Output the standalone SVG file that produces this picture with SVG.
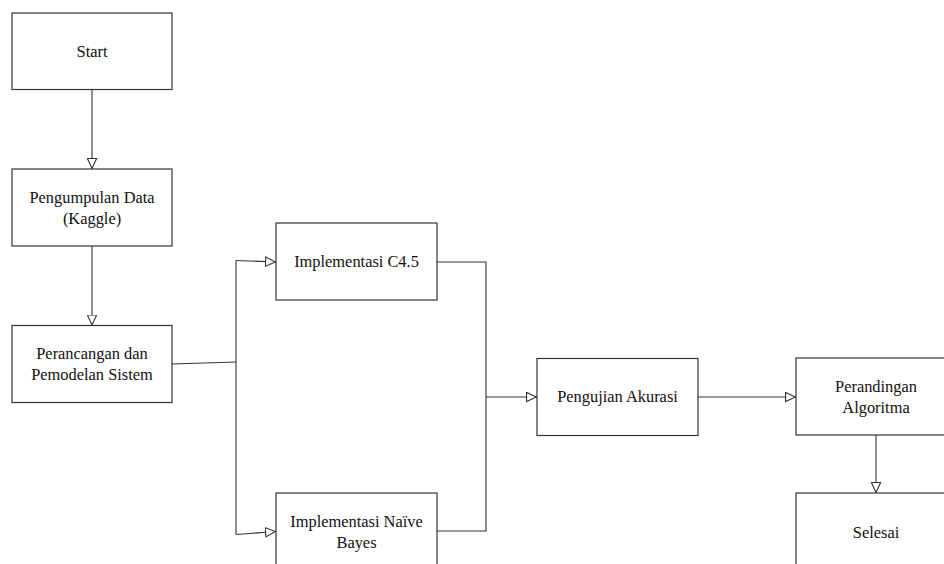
<svg xmlns="http://www.w3.org/2000/svg" width="944" height="564" viewBox="0 0 944 564">
<style>
.box{fill:#fff;stroke:#333;stroke-width:1.2}
.t{font-family:"Liberation Serif","Times New Roman",serif;font-size:16.4px;fill:#111;text-anchor:middle}
.c{fill:none;stroke:#333;stroke-width:1.1}
</style>
<defs>
<marker id="a" viewBox="0 0 10 10" refX="10" refY="5" markerWidth="11" markerHeight="11" markerUnits="userSpaceOnUse" orient="auto">
<path d="M0.5,0.8 L9.5,5 L0.5,9.2 Z" fill="#fff" stroke="#333" stroke-width="1"/>
</marker>
</defs>
<rect width="944" height="564" fill="#fff"/>
<g id="connectors">
<path class="c" d="M92,89.5 V169" marker-end="url(#a)"/>
<path class="c" d="M92,246 V325.5" marker-end="url(#a)"/>
<path class="c" d="M172,364 L236,362"/>
<path class="c" d="M236,260.5 V534.5"/>
<path class="c" d="M236,260.5 L276,262" marker-end="url(#a)"/>
<path class="c" d="M236,534.5 L276,531.5" marker-end="url(#a)"/>
<path class="c" d="M437,262 H486 V531 H437"/>
<path class="c" d="M486,397 H537" marker-end="url(#a)"/>
<path class="c" d="M698,397 H796" marker-end="url(#a)"/>
<path class="c" d="M876,435 V493" marker-end="url(#a)"/>
</g>
<g id="start"><rect class="box" x="12" y="13" width="160" height="76.5"/><text class="t" x="92" y="57">Start</text></g>
<g id="pengumpulan"><rect class="box" x="12" y="169" width="160" height="77"/><text class="t" x="92" y="203">Pengumpulan Data</text><text class="t" x="92" y="224">(Kaggle)</text></g>
<g id="perancangan"><rect class="box" x="12" y="325.5" width="160" height="77"/><text class="t" x="92" y="359">Perancangan dan</text><text class="t" x="92" y="380">Pemodelan Sistem</text></g>
<g id="c45"><rect class="box" x="276" y="223" width="161" height="77"/><text class="t" x="356.5" y="267">Implementasi C4.5</text></g>
<g id="bayes"><rect class="box" x="276" y="493" width="161" height="80"/><text class="t" x="356.5" y="527">Implementasi Naïve</text><text class="t" x="356.5" y="548">Bayes</text></g>
<g id="pengujian"><rect class="box" x="537" y="358.5" width="161" height="77"/><text class="t" x="617.5" y="402">Pengujian Akurasi</text></g>
<g id="perandingan"><rect class="box" x="796" y="358" width="161" height="77"/><text class="t" x="876" y="392">Perandingan</text><text class="t" x="876" y="413">Algoritma</text></g>
<g id="selesai"><rect class="box" x="796" y="493" width="161" height="80"/><text class="t" x="876" y="538">Selesai</text></g>
</svg>
